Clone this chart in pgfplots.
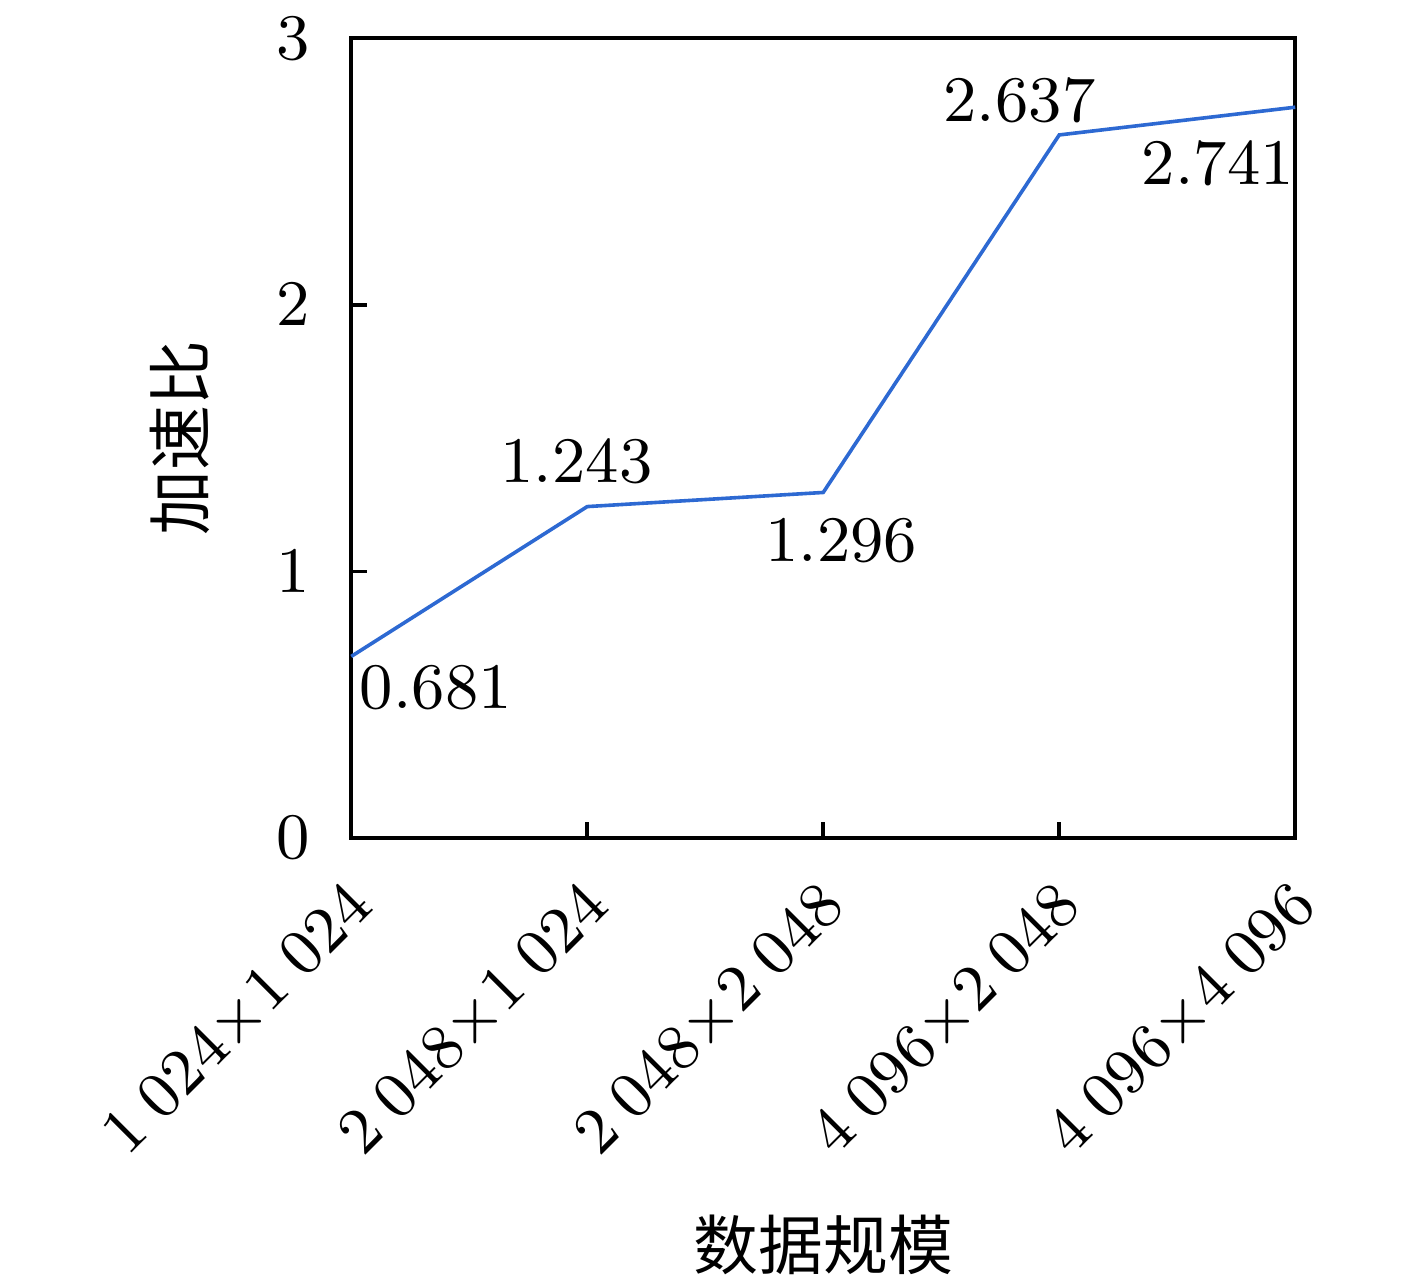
\documentclass[border=0pt]{standalone}
\usepackage[no-math]{fontspec}
\usepackage{pgfplots}
\pgfplotsset{compat=1.18}
\newfontfamily\cjk{Noto Sans CJK SC}
\definecolor{lineblue}{RGB}{45,105,210}
\newcommand{\gp}{\hspace{0.25em}}
\begin{document}
\fontsize{9pt}{11pt}\selectfont
\begin{tikzpicture}
\begin{axis}[
  name=ax,
  scale only axis,
  width=131pt, height=111pt,
  xmin=0, xmax=4, ymin=0, ymax=3,
  xtick={0,1,2,3,4},
  xticklabels={{1\gp 024×1\gp 024},{2\gp 048×1\gp 024},{2\gp 048×2\gp 048},{4\gp 096×2\gp 048},{4\gp 096×4\gp 096}},
  xticklabel style={xshift=3.5pt, yshift=-5.5pt, rotate=45, anchor=east},
  yticklabel style={xshift=-2.5pt},
  ytick={0,1,2,3},
  xtick pos=bottom, ytick pos=left,
  tick align=inside,
  major tick length=2.2pt,
  axis line style={line width=0.6pt},
  tick style={line width=0.5pt, black},
  xlabel={\cjk 数据规模},
  ylabel={\cjk 加速比},
  xlabel style={at={([yshift=-56.5pt]axis description cs:0.5,0)}, anchor=center},
  ylabel style={at={([xshift=-23.75pt]axis description cs:0,0.5)}, anchor=center},
  clip=false,
]
\addplot[lineblue, line width=0.5pt] coordinates {(0,0.681) (1,1.243) (2,1.296) (3,2.637) (4,2.741)};
\node[anchor=north west, inner sep=1pt] at (axis cs:0,0.681) {0.681};
\node[anchor=south, xshift=-1.5pt, yshift=1pt, inner sep=2pt] at (axis cs:1,1.243) {1.243};
\node[anchor=north, xshift=2.5pt, yshift=-1.4pt, inner sep=2pt] at (axis cs:2,1.296) {1.296};
\node[anchor=south, xshift=-5.5pt, inner sep=1.5pt] at (axis cs:3,2.637) {2.637};
\node[anchor=north east, inner sep=1pt, xshift=1pt, yshift=-3.5pt] at (axis cs:4,2.741) {2.741};
\end{axis}
\path (ax.south west) +(-48.75pt,-61.8pt) coordinate (bl);
\path (ax.north east) +(16.9pt,5.3pt) coordinate (tr);
\pgfresetboundingbox
\path[use as bounding box] (bl) rectangle (tr);
\end{tikzpicture}
\end{document}
